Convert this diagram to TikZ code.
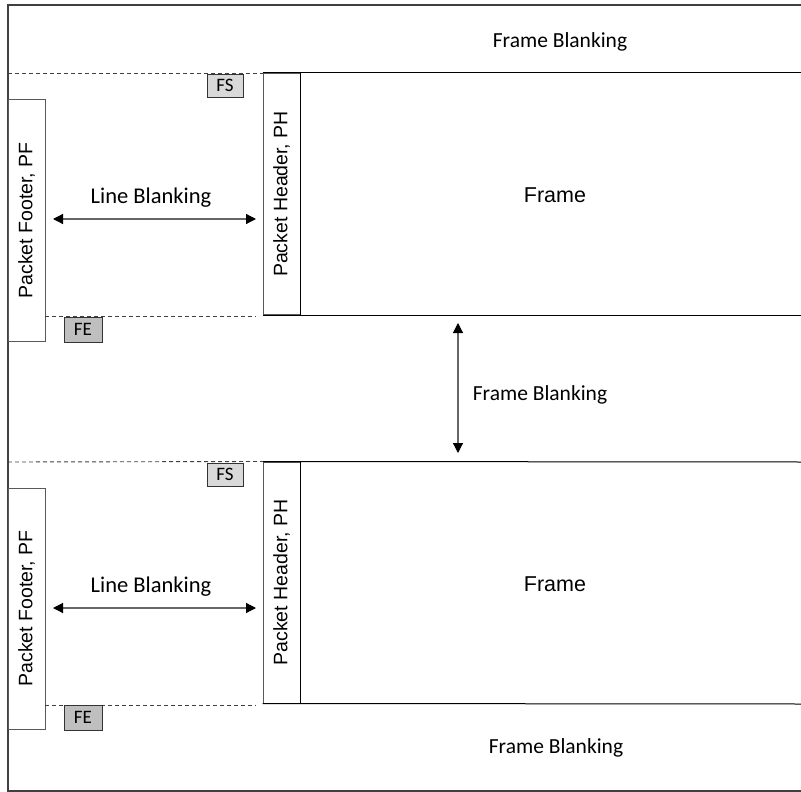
\documentclass[tikz,border=0pt]{standalone}
\usepackage{fontspec}
\setmainfont{Carlito}
\newfontfamily\arialf{Liberation Sans}
\usetikzlibrary{arrows.meta}
\definecolor{edgegray}{HTML}{595959}
\definecolor{fsfill}{HTML}{D9D9D9}
\definecolor{fefill}{HTML}{BFBFBF}
\tikzset{
  pktbox/.style={draw=edgegray, line width=1pt, fill=white, minimum width=241pt, minimum height=37pt, inner sep=0pt, rotate=90, font=\arialf\fontsize{19.5}{22}\selectfont},
  tagbox/.style={draw=black!80, line width=0.9pt, minimum width=36pt, minimum height=23pt, inner sep=0pt, font=\fontsize{19}{22}\selectfont},
  cal/.style={anchor=base, inner sep=0pt, font=\fontsize{21.5}{24}\selectfont},
  calb/.style={anchor=base, inner sep=0pt, font=\fontsize{22.5}{25}\selectfont},
  frm/.style={anchor=base, inner sep=0pt, font=\arialf\fontsize{21.5}{24}\selectfont},
  dashline/.style={dashed, dash pattern=on 4pt off 3pt, line width=0.9pt, black!75},
  frameline/.style={line width=1pt, black},
  dimarrow/.style={{Triangle[length=10pt,width=10pt,color=black]}-{Triangle[length=10pt,width=10pt,color=black]}, line width=1.2pt, draw=black!60}
}
\begin{document}
\begin{tikzpicture}[x=1pt,y=-1pt]
\useasboundingbox (0,0) rectangle (801,792);
% outer frame
\coordinate (otl) at (8,5);
\coordinate (otr) at (801,5);
\coordinate (obl) at (8,791);
\coordinate (obr) at (801,791);
\draw[line width=1.4pt, black!75] (otr) -- (otl) -- (obl) -- (obr);

% block 1
\node[pktbox] (ph1) at (281.5,194) {Packet Header, PH};
\node[pktbox] (pf1) at (26.5,220.5) {Packet Footer, PF};
\coordinate (ft1) at (801,73);
\coordinate (fb1) at (801,315);
\draw[frameline] (ph1.north east) -- (ft1);
\draw[frameline] (ph1.north west) -- (fb1);
\draw[frameline] (ph1.south east) -- (ph1.south west);
\coordinate (ds1) at (8,73);
\draw[dashline] (ds1) -- (ph1.north east);
\coordinate (de1a) at (45,316);
\coordinate (de1b) at (256,316);
\draw[dashline] (de1a) -- (de1b);
\node[tagbox, fill=fsfill] (fs1) at (225,85.5) {FS};
\node[tagbox, fill=fefill, minimum width=38pt, minimum height=25pt] (fe1) at (83,329.5) {FE};
\node[calb] (lb1) at (151,203) {Line Blanking};
\coordinate (la1) at (53,219);
\coordinate (lb1e) at (256,219);
\draw[dimarrow] (la1) -- (lb1e);
\node[frm] (fr1) at (555,202) {Frame};

% frame blanking labels
\node[cal] (fbtop) at (560,48) {Frame Blanking};
\node[cal] (fbmid) at (540,400) {Frame Blanking};
\coordinate (va) at (458,323);
\coordinate (vb) at (458,453);
\draw[dimarrow] (va) -- (vb);
\node[cal] (fbbot) at (556,753) {Frame Blanking};

% block 2
\node[pktbox] (ph2) at (281.5,582.5) {Packet Header, PH};
\node[pktbox] (pf2) at (26.5,608.5) {Packet Footer, PF};
\coordinate (ft2) at (801,462);
\coordinate (fb2) at (801,704);
\draw[frameline] (ph2.north east) -- (ft2);
\draw[frameline] (ph2.north west) -- (fb2);
\draw[frameline] (ph2.south east) -- (ph2.south west);
\coordinate (ds2) at (8,462);
\draw[dashline] (ds2) -- (ph2.north east);
\coordinate (de2a) at (45,705);
\coordinate (de2b) at (256,705);
\draw[dashline] (de2a) -- (de2b);
\node[tagbox, fill=fsfill] (fs2) at (225,474.5) {FS};
\node[tagbox, fill=fefill, minimum width=38pt, minimum height=25pt] (fe2) at (83,717.5) {FE};
\node[calb] (lb2) at (151,592) {Line Blanking};
\coordinate (la2) at (53,608);
\coordinate (lb2e) at (256,608);
\draw[dimarrow] (la2) -- (lb2e);
\node[frm] (fr2) at (555,591) {Frame};
\end{tikzpicture}
\end{document}
